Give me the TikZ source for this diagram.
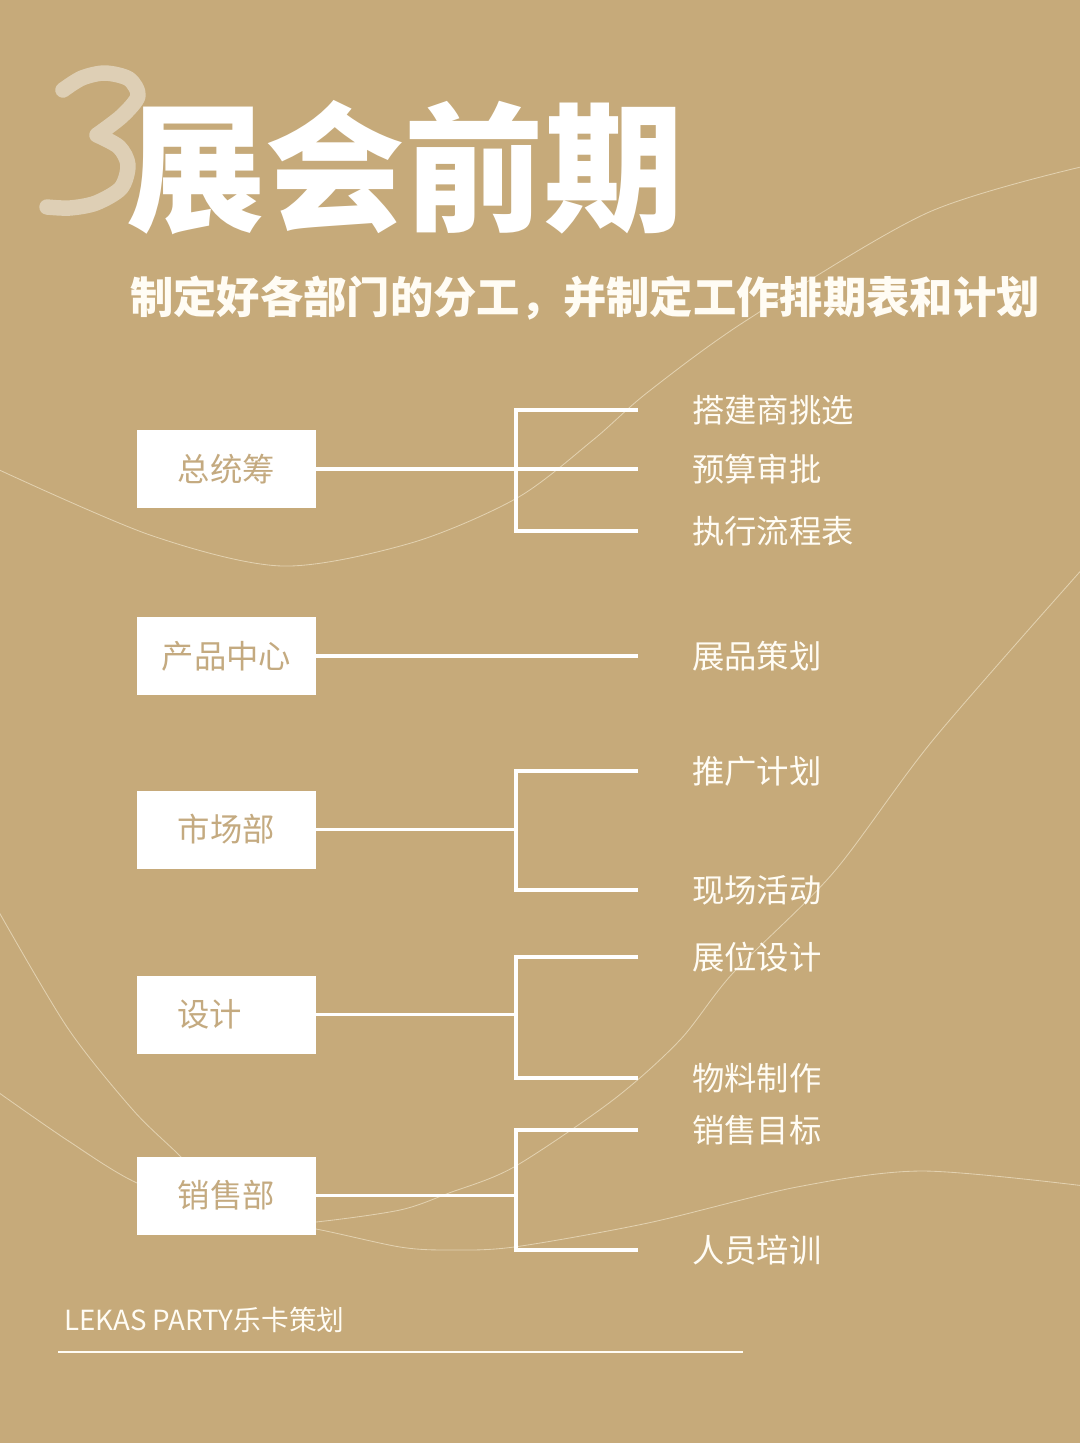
\documentclass[tikz,border=0pt]{standalone}
\usepackage{fontspec}
\newfontfamily\cjk{Noto Sans CJK SC}
\definecolor{bgtan}{RGB}{198,170,122}
\definecolor{boxtext}{RGB}{196,170,128}
\definecolor{cream}{RGB}{255,252,244}
\definecolor{swirlcol}{RGB}{226,209,176}
\definecolor{threecol}{RGB}{222,207,181}
\tikzset{
  dept/.style={fill=white, minimum width=4.475cm, minimum height=1.95cm, inner sep=0pt,
    text=boxtext, font=\cjk\fontsize{23pt}{23pt}\selectfont},
  task/.style={anchor=west, inner xsep=1.35cm, inner ysep=0pt,
    text=cream, font=\cjk\fontsize{23pt}{23pt}\selectfont},
  link/.style={draw=white, line width=2.6pt},
  swirl/.style={draw=swirlcol, line width=0.6pt},
}

\begin{document}
\begin{tikzpicture}[x=0.025cm, y=-0.025cm]
    \fill[bgtan] (0,0) rectangle (1080,1443);
    \useasboundingbox (0,0) rectangle (1080,1443);

    \begin{scope}
      \clip (0,0) rectangle (1080,1443);
      \draw[swirl] plot[smooth] coordinates {(-5,468) (150,535) (282,566) (411,543) (517,498)
        (593,440) (648,392) (747,320) (927,213) (1085,166)};
      \draw[swirl] plot[smooth] coordinates {(1085,566) (933,740) (833,873) (733,973) (680,1040)
        (613,1100) (514,1167) (449,1193) (400,1210) (316,1222) (250,1226)};
      \draw[swirl] plot[smooth] coordinates {(-5,905) (67,1027) (133,1110) (180,1156) (210,1190)};
      \draw[swirl] plot[smooth] coordinates {(-5,1090) (67,1140) (137,1183) (230,1215) (316,1229)
        (400,1247) (449,1250) (514,1247) (648,1223) (797,1187) (922,1171) (1085,1186)};
    \end{scope}

    \draw[threecol, line width=11pt, line cap=round, line join=round]
      plot[smooth] coordinates {(63,90) (82,78) (105,73) (129,79) (138,96) (122,116) (97,135)}
      plot[smooth] coordinates {(97,135) (119,147) (128,165) (121,188) (96,203) (70,208) (47,207)};

    \node[text=white, font=\cjk\bfseries\fontsize{99pt}{99pt}\selectfont] (title) at (405,168) {展会前期};
    \node[text=cream, font=\cjk\bfseries\fontsize{30.8pt}{30.8pt}\selectfont] (subtitle) at (585,298)
      {制定好各部门的分工，并制定工作排期表和计划};

    \node[dept] (zongchou) at (226.5,469) {总统筹};
    \node[dept] (chanpin) at (226.5,656) {产品中心};
    \node[dept] (shichang) at (226.5,829.5) {市场部};
    \node[dept, text width=2.45cm, align=left] (sheji) at (226.5,1014.5) {设计};
    \node[dept] (xiaoshou) at (226.5,1195.5) {销售部};

    \node[task] (dajian) at (638,410) {搭建商挑选};
    \node[task] (yusuan) at (638,469) {预算审批};
    \node[task] (zhixing) at (638,531) {执行流程表};
    \node[task] (zhanpin) at (638,656) {展品策划};
    \node[task] (tuiguang) at (638,771) {推广计划};
    \node[task] (xianchang) at (638,890) {现场活动};
    \node[task] (zhanwei) at (638,957) {展位设计};
    \node[task] (wuliao) at (638,1078) {物料制作};
    \node[task] (mubiao) at (638,1130) {销售目标};
    \node[task] (peixun) at (638,1250) {人员培训};

    \draw[link] (zongchou.east) -- (yusuan.west);
    \path (zongchou.east) ++(200,0) coordinate (j1);
    \draw[link] (dajian.west) -| (j1) |- (zhixing.west);

    \draw[link] (chanpin.east) -- (zhanpin.west);

    \draw[link] (shichang.east) -- ++(200,0) coordinate (j3);
    \draw[link] (tuiguang.west) -| (j3) |- (xianchang.west);

    \draw[link] (sheji.east) -- ++(200,0) coordinate (j4);
    \draw[link] (zhanwei.west) -| (j4) |- (wuliao.west);

    \draw[link] (xiaoshou.east) -- ++(200,0) coordinate (j5);
    \draw[link] (mubiao.west) -| (j5) |- (peixun.west);

    \node[anchor=west, inner sep=0pt, text=cream, font=\cjk\fontsize{19.7pt}{19.7pt}\selectfont] (brand)
      at (64,1320) {LEKAS PARTY乐卡策划};
    \draw[cream, line width=1.4pt] (58,1352) -- (743,1352);
\end{tikzpicture}
\end{document}
